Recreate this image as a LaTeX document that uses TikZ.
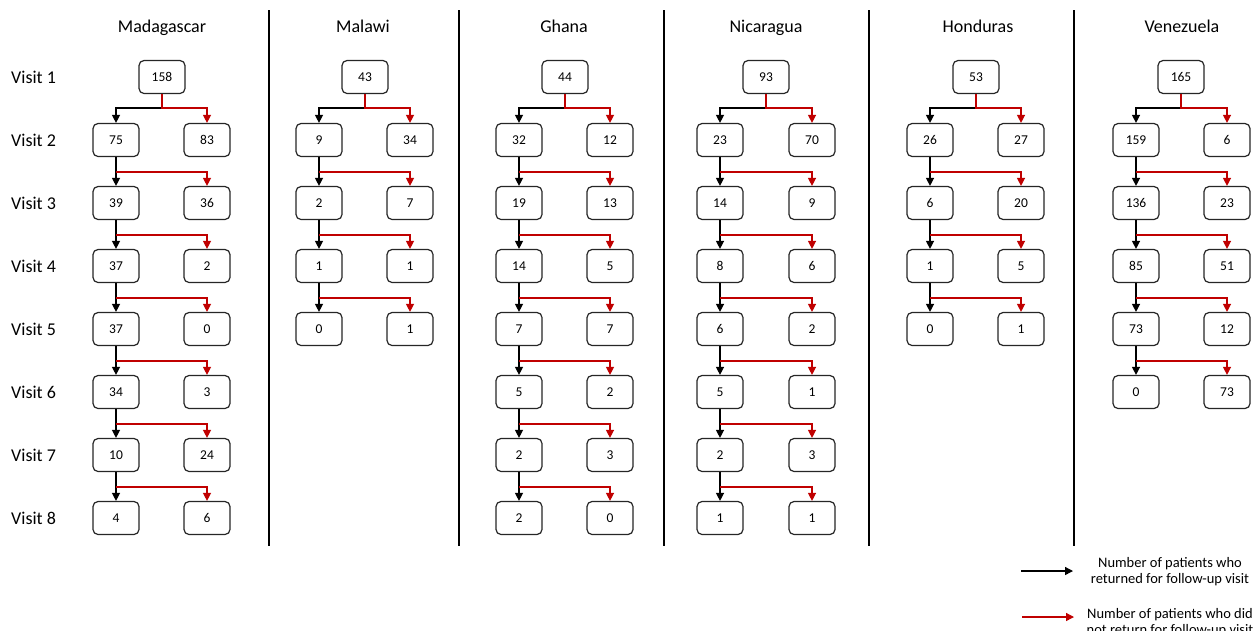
\documentclass[tikz,border=0pt]{standalone}
\usepackage{fontspec}
\setmainfont{Carlito}
\usepackage{tikz}
\usetikzlibrary{arrows.meta}

\definecolor{lostred}{RGB}{192,0,0}

\begin{document}
\begin{tikzpicture}[
  x=1pt, y=-1pt,
  cnt/.style={draw=black!85, rounded corners=5pt, line width=1.2pt, fill=white,
    minimum width=46pt, minimum height=33pt, inner sep=0pt,
    font=\fontsize{13.5}{16}\selectfont},
  head/.style={anchor=base, font=\fontsize{18}{21}\selectfont},
  visit/.style={anchor=west, inner sep=0pt, font=\fontsize{18}{21}\selectfont},
  ret/.style={-{Triangle[width=8pt,length=8pt]}, line width=1.3pt, color=black},
  miss/.style={-{Triangle[width=8pt,length=8pt]}, line width=1.3pt, color=lostred},
  sep/.style={line width=1.2pt, color=black},
  legend/.style={anchor=north, inner sep=0pt, align=center,
    font=\fontsize{14.5}{16.5}\selectfont},
]
  \useasboundingbox (0,0) rectangle (1257,630);

  % row labels
  \foreach \k in {1,...,8}
    \node[visit] (v\k) at (11,{77+63*(\k-1)}) {Visit \k};

  % headers
  \node[head] (hmad) at (162,32) {Madagascar};
  \node[head] (hmlw) at (363,32) {Malawi};
  \node[head] (hgha) at (564,32) {Ghana};
  \node[head] (hnic) at (766,32) {Nicaragua};
  \node[head] (hhon) at (978,32) {Honduras};
  \node[head] (hven) at (1182,32) {Venezuela};

  % boxes: top count, then returned (l) / not returned (r) per visit
  \node[cnt] (mad0) at (162,77) {158};
  \foreach \k/\a/\b in {1/75/83, 2/39/36, 3/37/2, 4/37/0, 5/34/3, 6/10/24, 7/4/6} {
    \node[cnt] (mad\k l) at (116,{77+63*\k}) {\a};
    \node[cnt] (mad\k r) at (207,{77+63*\k}) {\b};
  }
  \node[cnt] (mlw0) at (365,77) {43};
  \foreach \k/\a/\b in {1/9/34, 2/2/7, 3/1/1, 4/0/1} {
    \node[cnt] (mlw\k l) at (319,{77+63*\k}) {\a};
    \node[cnt] (mlw\k r) at (410,{77+63*\k}) {\b};
  }
  \node[cnt] (gha0) at (565,77) {44};
  \foreach \k/\a/\b in {1/32/12, 2/19/13, 3/14/5, 4/7/7, 5/5/2, 6/2/3, 7/2/0} {
    \node[cnt] (gha\k l) at (519,{77+63*\k}) {\a};
    \node[cnt] (gha\k r) at (610,{77+63*\k}) {\b};
  }
  \node[cnt] (nic0) at (766,77) {93};
  \foreach \k/\a/\b in {1/23/70, 2/14/9, 3/8/6, 4/6/2, 5/5/1, 6/2/3, 7/1/1} {
    \node[cnt] (nic\k l) at (720,{77+63*\k}) {\a};
    \node[cnt] (nic\k r) at (812,{77+63*\k}) {\b};
  }
  \node[cnt] (hon0) at (976,77) {53};
  \foreach \k/\a/\b in {1/26/27, 2/6/20, 3/1/5, 4/0/1} {
    \node[cnt] (hon\k l) at (930,{77+63*\k}) {\a};
    \node[cnt] (hon\k r) at (1021,{77+63*\k}) {\b};
  }
  \node[cnt] (ven0) at (1181,77) {165};
  \foreach \k/\a/\b in {1/159/6, 2/136/23, 3/85/51, 4/73/12, 5/0/73} {
    \node[cnt] (ven\k l) at (1136,{77+63*\k}) {\a};
    \node[cnt] (ven\k r) at (1227,{77+63*\k}) {\b};
  }

  % column separators
  \foreach \x in {269,459,664,869,1074}
    \draw[sep] (\x,10) -- (\x,546);

  % returned: straight down the left column
  \foreach \c/\n in {mad/7, mlw/4, gha/7, nic/7, hon/4, ven/5} {
    \draw[ret] (\c0.south) -- ++(0,14) -| (\c1l);
    \foreach \k [remember=\k as \j (initially 1)] in {2,...,\n}
      \draw[ret] (\c\j l) -- (\c\k l);
  }

  % not returned: branch off to the right column
  \foreach \c/\n in {mad/7, mlw/4, gha/7, nic/7, hon/4, ven/5} {
    \draw[miss] (\c0.south) -- ++(0,14) -| (\c1r);
    \foreach \k [remember=\k as \j (initially 1)] in {2,...,\n}
      \draw[miss] ([yshift=-15pt]\c\j l.south) -| (\c\k r);
  }

  % legend
  \coordinate (kret) at (1021,571);
  \coordinate (kretend) at (1073,571);
  \coordinate (kmiss) at (1022,617);
  \coordinate (kmissend) at (1074,617);
  \draw[ret] (kret) -- (kretend);
  \draw[miss] (kmiss) -- (kmissend);
  \node[legend] (lret) at (1170,557) {Number of patients who\\returned for follow-up visit};
  \node[legend] (lmiss) at (1170,608) {Number of patients who did\\not return for follow-up visit};
\end{tikzpicture}
\end{document}
